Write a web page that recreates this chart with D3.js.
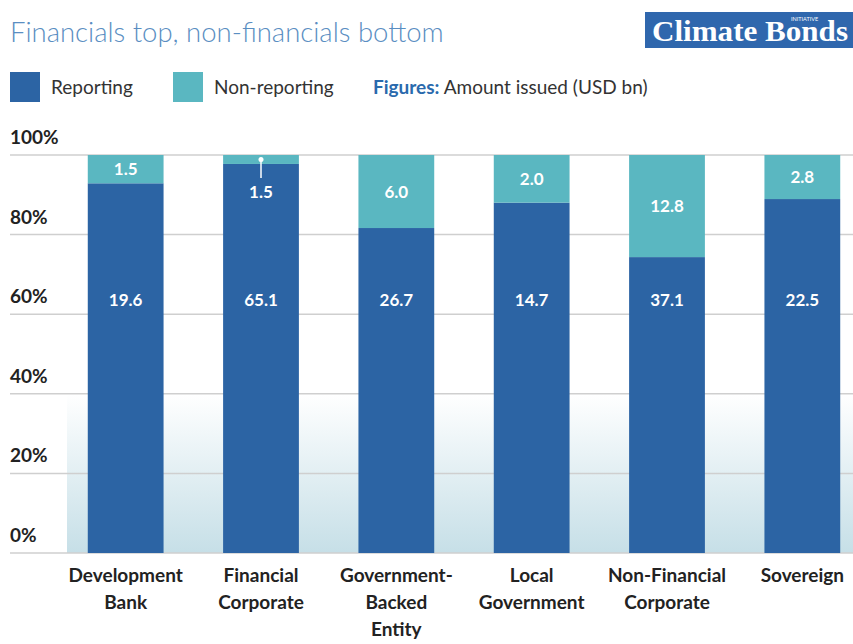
<!DOCTYPE html>
<html>
<head>
<meta charset="utf-8">
<script src="https://cdn.jsdelivr.net/npm/d3@7"></script>
<style>
  body { margin: 0; background: #fff; }
  text { font-family: Lato, "Open Sans", sans-serif; }
</style>
</head>
<body>
<svg id="chart" width="853" height="644"></svg>
<script>
// data
var categories = [['Development', 'Bank'], ['Financial', 'Corporate'], ['Government-', 'Backed', 'Entity'],
                  ['Local', 'Government'], ['Non-Financial', 'Corporate'], ['Sovereign']];
var reporting = [19.6, 65.1, 26.7, 14.7, 37.1, 22.5];
var nonReporting = [1.5, 1.5, 6.0, 2.0, 12.8, 2.8];
var yTicks = [0, 0.2, 0.4, 0.6, 0.8, 1];

var blue = '#2c64a4', teal = '#5ab7c1';

var svg = d3.select('#chart');
var margin = {top: 155, left: 10, right: 0, bottom: 91};
var width = 853 - margin.left - margin.right,
    height = 644 - margin.top - margin.bottom;

var x = d3.scaleBand().domain(d3.range(categories.length)).range([48, 860]).paddingInner(0.44).paddingOuter(0.22);
var y = d3.scaleLinear().domain([0, 1]).range([height, 0]);

// title + logo
svg.append('text').attr('x', 10).attr('y', 42)
    .style('font-size', '27.5px').style('font-weight', 300).style('fill', '#5a8ec2')
    .text('Financials top, non-financials bottom');

var logo = svg.append('g').attr('transform', 'translate(645,12)');
logo.append('rect').attr('width', 208).attr('height', 36).attr('fill', '#2f67ad');
logo.append('text').attr('x', 7).attr('y', 29)
    .style('font-family', '"Liberation Serif", "DejaVu Serif", serif')
    .style('font-size', '30px').style('font-weight', 'bold').style('fill', '#fff')
    .attr('textLength', 196).attr('lengthAdjust', 'spacingAndGlyphs')
    .text('Climate Bonds');
logo.append('text').attr('x', 146).attr('y', 9)
    .style('font-size', '5.5px').style('fill', '#fff').text('INITIATIVE');

// legend
var legend = svg.append('g').attr('transform', 'translate(10,72)');
legend.append('rect').attr('width', 30).attr('height', 30).attr('fill', blue);
legend.append('text').attr('x', 41).attr('y', 22).style('font-size', '19px').style('fill', '#333').text('Reporting');
legend.append('rect').attr('x', 163).attr('width', 30).attr('height', 30).attr('fill', teal);
legend.append('text').attr('x', 204).attr('y', 22).style('font-size', '19px').style('fill', '#333').text('Non-reporting');
var fig = legend.append('text').attr('x', 363).attr('y', 22).style('font-size', '19px').style('fill', '#333');
fig.append('tspan').style('font-weight', 'bold').style('fill', '#2a6aad').text('Figures:');
fig.append('tspan').text(' Amount issued (USD bn)');

var g = svg.append('g').attr('transform', 'translate(' + margin.left + ',' + margin.top + ')');

// soft gradient behind lower part of the plot
var defs = svg.append('defs');
var grad = defs.append('linearGradient').attr('id', 'bg').attr('x1', 0).attr('x2', 0).attr('y1', 0).attr('y2', 1);
grad.append('stop').attr('offset', '0%').attr('stop-color', '#ffffff');
grad.append('stop').attr('offset', '100%').attr('stop-color', '#c6dfe7');
g.append('rect').attr('x', 57).attr('y', y(0.4)).attr('width', width - 57).attr('height', y(0) - y(0.4))
    .attr('fill', 'url(#bg)');

// gridlines + tick labels
g.selectAll('.grid').data(yTicks).enter().append('line')
    .attr('class', 'grid')
    .attr('x1', 0).attr('x2', width)
    .attr('y1', function(d) { return y(d); }).attr('y2', function(d) { return y(d); })
    .attr('stroke', '#cfcfcf').attr('stroke-width', 1.5);
g.selectAll('.tick-label').data(yTicks).enter().append('text')
    .attr('class', 'tick-label')
    .attr('x', 0).attr('y', function(d) { return y(d) - 11; })
    .style('font-size', '19px').style('font-weight', 'bold').style('fill', '#222')
    .text(d3.format('.0%'));

// stacked bars (share of total)
var rows = reporting.map(function(r, i) {
    var total = r + nonReporting[i];
    return {i: i, rep: r, non: nonReporting[i], share: r / total};
});

var bars = g.selectAll('.bar').data(rows).enter().append('g').attr('class', 'bar');
bars.append('rect')
    .attr('x', function(d) { return x(d.i); }).attr('width', x.bandwidth())
    .attr('y', function(d) { return y(d.share); })
    .attr('height', function(d) { return y(0) - y(d.share); })
    .attr('fill', blue);
bars.append('rect')
    .attr('x', function(d) { return x(d.i); }).attr('width', x.bandwidth())
    .attr('y', y(1))
    .attr('height', function(d) { return y(d.share) - y(1); })
    .attr('fill', teal);

// value labels
bars.append('text')
    .attr('x', function(d) { return x(d.i) + x.bandwidth() / 2; })
    .attr('y', y(0.635) + 6)
    .attr('text-anchor', 'middle')
    .style('font-size', '17px').style('font-weight', 'bold').style('fill', '#fff')
    .text(function(d) { return d.rep.toFixed(1); });

bars.append('text')
    .attr('x', function(d) { return x(d.i) + x.bandwidth() / 2; })
    .attr('y', function(d) {
        var segH = y(d.share) - y(1);
        if (segH < 20) return y(d.share) + 34; // too thin, label sits below with a pointer
        return (y(1) + y(d.share)) / 2 + 6;
    })
    .attr('text-anchor', 'middle')
    .style('font-size', '17px').style('font-weight', 'bold').style('fill', '#fff')
    .text(function(d) { return d.non.toFixed(1); });

// pointer for thin segment
bars.filter(function(d) { return y(d.share) - y(1) < 20; }).each(function(d) {
    var cx = x(d.i) + x.bandwidth() / 2;
    var sel = d3.select(this);
    sel.append('line').attr('x1', cx).attr('x2', cx)
        .attr('y1', (y(1) + y(d.share)) / 2).attr('y2', y(d.share) + 14)
        .attr('stroke', '#fff').attr('stroke-width', 1.5);
    sel.append('circle').attr('cx', cx).attr('cy', (y(1) + y(d.share)) / 2).attr('r', 2.5).attr('fill', '#fff');
});

// category labels
var cat = g.selectAll('.cat').data(categories).enter().append('text')
    .attr('class', 'cat')
    .attr('text-anchor', 'middle')
    .attr('transform', function(d, i) { return 'translate(' + (x(i) + x.bandwidth() / 2) + ',' + (height + 29) + ')'; })
    .style('font-size', '19px').style('font-weight', 'bold').style('fill', '#222');
cat.selectAll('tspan').data(function(d) { return d; }).enter().append('tspan')
    .attr('x', 0).attr('y', function(d, j) { return j * 27; })
    .text(function(d) { return d; });
</script>
</body>
</html>
